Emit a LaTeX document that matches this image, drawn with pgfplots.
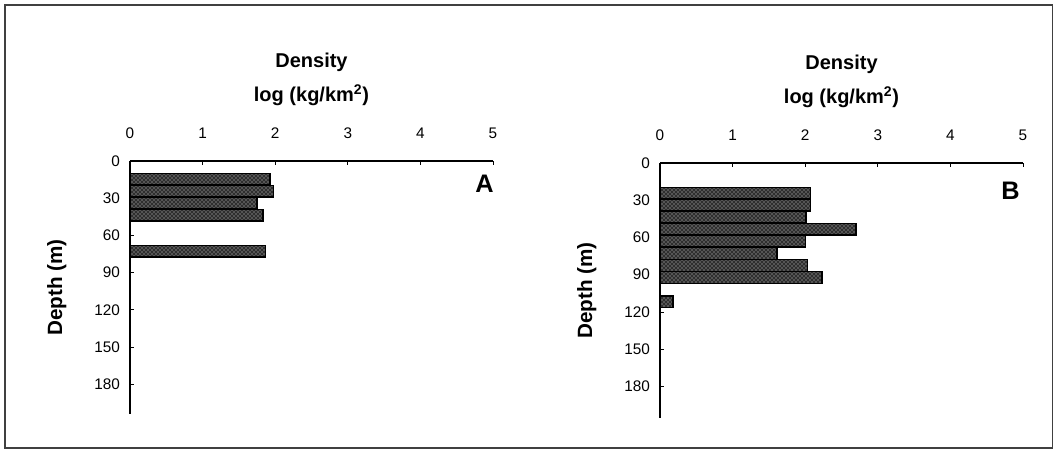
\documentclass[border=0pt]{standalone}
\usepackage{fontspec}
\setmainfont{Liberation Sans}
\usepackage{pgfplots}
\pgfplotsset{compat=1.18}
\usetikzlibrary{patterns}

% depth class centre (m), log density
\pgfplotstableread{
depth dens
14.7  1.93
24.4  1.98
34.1  1.75
43.8  1.83
72.9  1.87
}\siteA
\pgfplotstableread{
depth dens
24.4  2.07
34.1  2.07
43.8  2.01
53.5  2.70
63.2  2.00
72.9  1.61
82.6  2.03
92.3  2.23
111.7 0.18
}\siteB

\pgfplotsset{
  depthplot/.style={
    scale only axis, width=272.25pt,
    axis x line=top, axis y line=left,
    axis line style={-, line width=1pt},
    y dir=reverse,
    xmin=0, xmax=5, ymin=0,
    xtick={0,1,2,3,4,5},
    ytick={0,30,60,90,120,150,180},
    tick align=inside, major tick length=3pt,
    tick style={black, line width=0.6pt},
    /pgf/number format/assume math mode=true,
    ticklabel style={font=\fontsize{11.5}{13}\selectfont},
    xticklabel style={yshift=13pt},
    yticklabel style={xshift=-4pt},
    xlabel={Density\\log (kg/km\textsuperscript{2})},
    xlabel style={align=center, font=\fontsize{15}{25.5}\bfseries,
      at={(axis description cs:0.5,1)}, anchor=south, yshift=38pt},
    ylabel={Depth (m)},
    ylabel style={font=\fontsize{15.5}{17}\bfseries,
      at={(axis description cs:0,0.5)}, anchor=center, yshift=55pt},
    clip=false,
  },
  depthbars/.style={
    xbar, bar width=9.2, draw=black, line width=1pt,
    fill=black!82,
    postaction={pattern=crosshatch dots, pattern color=white!85!black},
  },
}

\begin{document}
\begin{tikzpicture}
\path[use as bounding box] (0,0) rectangle (790.5pt,-337.5pt);
\draw[line width=0.9pt, black!75] (3.75pt,-3.75pt) rectangle (789.5pt,-336pt);

\begin{axis}[depthplot, at={(97.5pt,-310.5pt)}, anchor=south west,
  height=189.75pt, ymax=204]
  \addplot[depthbars] table[x=dens, y=depth] {\siteA};
  \node[font=\fontsize{19}{20}\bfseries, anchor=east, xshift=4pt] at (axis cs:5,18) {A};
\end{axis}

\begin{axis}[depthplot, at={(495pt,-313.5pt)}, anchor=south west,
  height=191.25pt, ymax=205.5]
  \addplot[depthbars] table[x=dens, y=depth] {\siteB};
  \node[font=\fontsize{19}{20}\bfseries, anchor=east, xshift=1pt] at (axis cs:5,22) {B};
\end{axis}
\end{tikzpicture}
\end{document}
